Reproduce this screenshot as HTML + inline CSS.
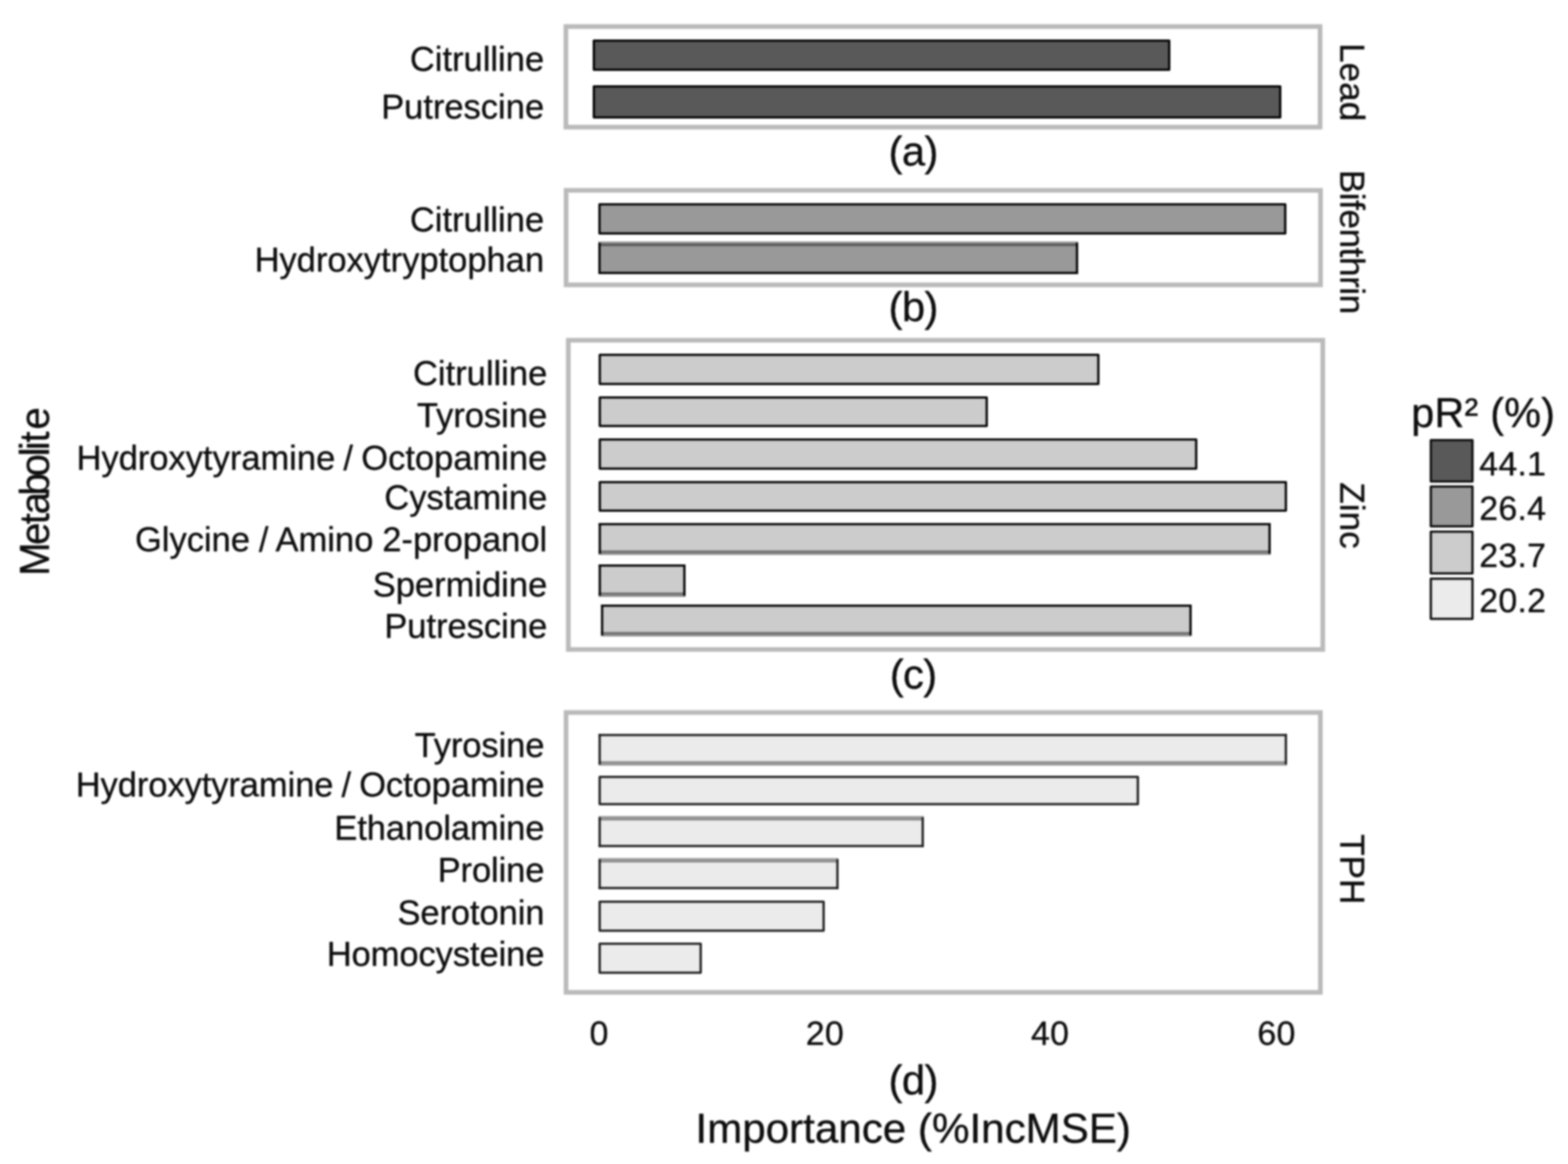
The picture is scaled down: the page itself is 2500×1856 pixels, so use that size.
<!DOCTYPE html>
<html lang="en">
<head>
<meta charset="utf-8">
<title>Metabolite importance (%IncMSE)</title>
<style>
html,body{margin:0;padding:0;background:#fff;}
body{width:2500px;height:1856px;}
svg{display:block;filter:blur(1.35px);}
svg text{font-family:"Liberation Sans", Arial, Helvetica, sans-serif;stroke:#0d0d0d;stroke-width:0.5px;stroke-linejoin:round;}
</style>
</head>
<body>
<svg width="2500" height="1856" viewBox="0 0 2500 1856">
<rect x="0" y="0" width="2500" height="1856" fill="#ffffff"/>
<rect x="902.3" y="42.3" width="1202.4" height="160.4" fill="#fff" stroke="#bababa" stroke-width="7.4"/>
<rect x="946.80" y="64.80" width="917.40" height="46.40" fill="#595959" stroke="#000" stroke-width="3.6" stroke-linejoin="round"/>
<rect x="946.80" y="137.80" width="1094.40" height="49.40" fill="#595959" stroke="#000" stroke-width="3.6" stroke-linejoin="round"/>
<text x="867.5" y="112.5" font-size="55" text-anchor="end" fill="#0d0d0d">Citrulline</text>
<text x="867.5" y="188.5" font-size="55" text-anchor="end" fill="#0d0d0d">Putrescine</text>
<text x="2136.5" y="131" font-size="56" text-anchor="middle" transform="rotate(90 2136.5 131)" fill="#0d0d0d">Lead</text>
<text x="1456" y="263.5" font-size="66.5" text-anchor="middle" fill="#0d0d0d" letter-spacing="-1">(a)</text>
<rect x="902.6" y="303.5" width="1202.8" height="150.7" fill="#fff" stroke="#bababa" stroke-width="7.4"/>
<rect x="955.80" y="325.80" width="1093.40" height="46.40" fill="#999999" stroke="#000" stroke-width="3.6" stroke-linejoin="round"/>
<rect x="955.80" y="388.80" width="761.40" height="46.40" fill="#999999"/>
<line x1="954.00" y1="388.80" x2="1719.00" y2="388.80" stroke="#000" stroke-opacity="0.45" stroke-width="7.1"/>
<line x1="954.00" y1="435.20" x2="1719.00" y2="435.20" stroke="#000" stroke-width="3.6"/>
<line x1="955.80" y1="387.00" x2="955.80" y2="437.00" stroke="#000" stroke-width="3.6"/>
<line x1="1717.20" y1="387.00" x2="1717.20" y2="437.00" stroke="#000" stroke-width="3.6"/>
<text x="867.5" y="368.5" font-size="55" text-anchor="end" fill="#0d0d0d">Citrulline</text>
<text x="867.5" y="432.5" font-size="55" text-anchor="end" fill="#0d0d0d">Hydroxytryptophan</text>
<text x="2137" y="385.5" font-size="56" text-anchor="middle" transform="rotate(90 2137 385.5)" fill="#0d0d0d" letter-spacing="-0.7">Bifenthrin</text>
<text x="1456" y="512" font-size="66.5" text-anchor="middle" fill="#0d0d0d" letter-spacing="-1">(b)</text>
<rect x="906.1" y="542.5" width="1202.9" height="493.1" fill="#fff" stroke="#bababa" stroke-width="7.4"/>
<rect x="956.30" y="565.80" width="794.90" height="46.40" fill="#cccccc" stroke="#000" stroke-width="3.6" stroke-linejoin="round"/>
<rect x="956.30" y="633.80" width="616.90" height="45.40" fill="#cccccc" stroke="#000" stroke-width="3.6" stroke-linejoin="round"/>
<rect x="956.30" y="700.80" width="950.90" height="46.40" fill="#cccccc" stroke="#000" stroke-width="3.6" stroke-linejoin="round"/>
<rect x="956.30" y="768.80" width="1093.90" height="45.40" fill="#cccccc" stroke="#000" stroke-width="3.6" stroke-linejoin="round"/>
<rect x="956.30" y="835.80" width="1067.90" height="45.40" fill="#cccccc"/>
<line x1="954.50" y1="835.80" x2="2026.00" y2="835.80" stroke="#000" stroke-width="3.6"/>
<line x1="954.50" y1="881.20" x2="2026.00" y2="881.20" stroke="#000" stroke-opacity="0.45" stroke-width="7.1"/>
<line x1="956.30" y1="834.00" x2="956.30" y2="883.00" stroke="#000" stroke-width="3.6"/>
<line x1="2024.20" y1="834.00" x2="2024.20" y2="883.00" stroke="#000" stroke-width="3.6"/>
<rect x="956.30" y="901.80" width="134.90" height="46.40" fill="#cccccc"/>
<line x1="954.50" y1="901.80" x2="1093.00" y2="901.80" stroke="#000" stroke-width="3.6"/>
<line x1="954.50" y1="948.20" x2="1093.00" y2="948.20" stroke="#000" stroke-opacity="0.45" stroke-width="7.1"/>
<line x1="956.30" y1="900.00" x2="956.30" y2="950.00" stroke="#000" stroke-width="3.6"/>
<line x1="1091.20" y1="900.00" x2="1091.20" y2="950.00" stroke="#000" stroke-width="3.6"/>
<rect x="960.00" y="965.80" width="938.20" height="45.40" fill="#cccccc"/>
<line x1="958.20" y1="965.80" x2="1900.00" y2="965.80" stroke="#000" stroke-width="3.6"/>
<line x1="958.20" y1="1011.20" x2="1900.00" y2="1011.20" stroke="#000" stroke-opacity="0.45" stroke-width="7.1"/>
<line x1="960.00" y1="964.00" x2="960.00" y2="1013.00" stroke="#000" stroke-width="3.6"/>
<line x1="1898.20" y1="964.00" x2="1898.20" y2="1013.00" stroke="#000" stroke-width="3.6"/>
<text x="872.5" y="613.5" font-size="55" text-anchor="end" fill="#0d0d0d">Citrulline</text>
<text x="872.5" y="680.5" font-size="55" text-anchor="end" fill="#0d0d0d">Tyrosine</text>
<text x="872.5" y="748.5" font-size="55" text-anchor="end" fill="#0d0d0d" word-spacing="-2.2">Hydroxytyramine / Octopamine</text>
<text x="872.5" y="811.5" font-size="55" text-anchor="end" fill="#0d0d0d">Cystamine</text>
<text x="872.5" y="878.5" font-size="55" text-anchor="end" fill="#0d0d0d" word-spacing="-1">Glycine / Amino 2-propanol</text>
<text x="872.5" y="950.5" font-size="55" text-anchor="end" fill="#0d0d0d">Spermidine</text>
<text x="872.5" y="1016.5" font-size="55" text-anchor="end" fill="#0d0d0d">Putrescine</text>
<text x="2136.5" y="822" font-size="56" text-anchor="middle" transform="rotate(90 2136.5 822)" fill="#0d0d0d">Zinc</text>
<text x="1456" y="1098" font-size="66.5" text-anchor="middle" fill="#0d0d0d" letter-spacing="-1">(c)</text>
<rect x="902.5" y="1136.1" width="1202.7" height="446.2" fill="#fff" stroke="#bababa" stroke-width="7.4"/>
<rect x="956.10" y="1172.00" width="1094.10" height="45.20" fill="#ebebeb"/>
<line x1="954.30" y1="1172.00" x2="2052.00" y2="1172.00" stroke="#1c1c1c" stroke-width="3.6"/>
<line x1="954.30" y1="1217.20" x2="2052.00" y2="1217.20" stroke="#1c1c1c" stroke-opacity="0.45" stroke-width="7.1"/>
<line x1="956.10" y1="1170.20" x2="956.10" y2="1219.00" stroke="#1c1c1c" stroke-width="3.6"/>
<line x1="2050.20" y1="1170.20" x2="2050.20" y2="1219.00" stroke="#1c1c1c" stroke-width="3.6"/>
<rect x="956.10" y="1238.80" width="858.10" height="43.40" fill="#ebebeb" stroke="#1c1c1c" stroke-width="3.6" stroke-linejoin="round"/>
<rect x="956.10" y="1304.80" width="515.10" height="44.20" fill="#ebebeb"/>
<line x1="954.30" y1="1304.80" x2="1473.00" y2="1304.80" stroke="#1c1c1c" stroke-opacity="0.45" stroke-width="7.1"/>
<line x1="954.30" y1="1349.00" x2="1473.00" y2="1349.00" stroke="#1c1c1c" stroke-width="3.6"/>
<line x1="956.10" y1="1303.00" x2="956.10" y2="1350.80" stroke="#1c1c1c" stroke-width="3.6"/>
<line x1="1471.20" y1="1303.00" x2="1471.20" y2="1350.80" stroke="#1c1c1c" stroke-width="3.6"/>
<rect x="956.10" y="1371.80" width="379.10" height="44.20" fill="#ebebeb"/>
<line x1="954.30" y1="1371.80" x2="1337.00" y2="1371.80" stroke="#1c1c1c" stroke-opacity="0.45" stroke-width="7.1"/>
<line x1="954.30" y1="1416.00" x2="1337.00" y2="1416.00" stroke="#1c1c1c" stroke-width="3.6"/>
<line x1="956.10" y1="1370.00" x2="956.10" y2="1417.80" stroke="#1c1c1c" stroke-width="3.6"/>
<line x1="1335.20" y1="1370.00" x2="1335.20" y2="1417.80" stroke="#1c1c1c" stroke-width="3.6"/>
<rect x="956.10" y="1437.80" width="357.10" height="46.20" fill="#ebebeb" stroke="#1c1c1c" stroke-width="3.6" stroke-linejoin="round"/>
<rect x="956.10" y="1504.80" width="161.10" height="46.20" fill="#ebebeb" stroke="#1c1c1c" stroke-width="3.6" stroke-linejoin="round"/>
<text x="868.0" y="1206.5" font-size="55" text-anchor="end" fill="#0d0d0d" letter-spacing="-0.12">Tyrosine</text>
<text x="868.0" y="1269.5" font-size="55" text-anchor="end" fill="#0d0d0d" word-spacing="-2.2" letter-spacing="-0.12">Hydroxytyramine / Octopamine</text>
<text x="868.0" y="1338.5" font-size="55" text-anchor="end" fill="#0d0d0d" letter-spacing="-0.12">Ethanolamine</text>
<text x="868.0" y="1405.5" font-size="55" text-anchor="end" fill="#0d0d0d" letter-spacing="-0.12">Proline</text>
<text x="868.0" y="1473.5" font-size="55" text-anchor="end" fill="#0d0d0d" letter-spacing="-0.12">Serotonin</text>
<text x="868.0" y="1539.5" font-size="55" text-anchor="end" fill="#0d0d0d" letter-spacing="-0.12">Homocysteine</text>
<text x="2136.5" y="1386" font-size="56" text-anchor="middle" transform="rotate(90 2136.5 1386)" fill="#0d0d0d">TPH</text>
<text x="1456" y="1745" font-size="66.5" text-anchor="middle" fill="#0d0d0d" letter-spacing="-1">(d)</text>
<text x="955.3" y="1666" font-size="54" text-anchor="middle" fill="#0d0d0d" letter-spacing="0.6">0</text>
<text x="1315.3" y="1666" font-size="54" text-anchor="middle" fill="#0d0d0d" letter-spacing="0.6">20</text>
<text x="1674.3" y="1666" font-size="54" text-anchor="middle" fill="#0d0d0d" letter-spacing="0.6">40</text>
<text x="2035.3" y="1666" font-size="54" text-anchor="middle" fill="#0d0d0d" letter-spacing="0.6">60</text>
<text x="1456" y="1822" font-size="67.2" text-anchor="middle" fill="#0d0d0d">Importance (%IncMSE)</text>
<text x="-5.5 45.9 80.2 96.5 127.9 159.6 192.9 203.2 216.0 237.5" y="0" font-size="67" text-anchor="start" transform="translate(78 913) rotate(-90) scale(0.96 1)" fill="#0d0d0d">Metabolite</text>
<text x="2250" y="681" font-size="66" letter-spacing="0.3" fill="#0d0d0d">pR² (%)</text>
<rect x="2281.30" y="701.80" width="66.40" height="65.90" fill="#595959" stroke="#0a0a0a" stroke-width="3.6" stroke-linejoin="round"/>
<text x="2358.5" y="757.5" font-size="54" text-anchor="start" fill="#0d0d0d" letter-spacing="0.4">44.1</text>
<rect x="2281.30" y="775.80" width="66.40" height="63.40" fill="#999999" stroke="#0a0a0a" stroke-width="3.6" stroke-linejoin="round"/>
<text x="2358.5" y="828.5" font-size="54" text-anchor="start" fill="#0d0d0d" letter-spacing="0.4">26.4</text>
<rect x="2281.30" y="847.80" width="66.40" height="66.40" fill="#cccccc" stroke="#0a0a0a" stroke-width="3.6" stroke-linejoin="round"/>
<text x="2358.5" y="904" font-size="54" text-anchor="start" fill="#0d0d0d" letter-spacing="0.4">23.7</text>
<rect x="2281.30" y="922.80" width="66.40" height="63.90" fill="#ebebeb" stroke="#0a0a0a" stroke-width="3.6" stroke-linejoin="round"/>
<text x="2358.5" y="975.5" font-size="54" text-anchor="start" fill="#0d0d0d" letter-spacing="0.4">20.2</text>
</svg>
</body>
</html>
